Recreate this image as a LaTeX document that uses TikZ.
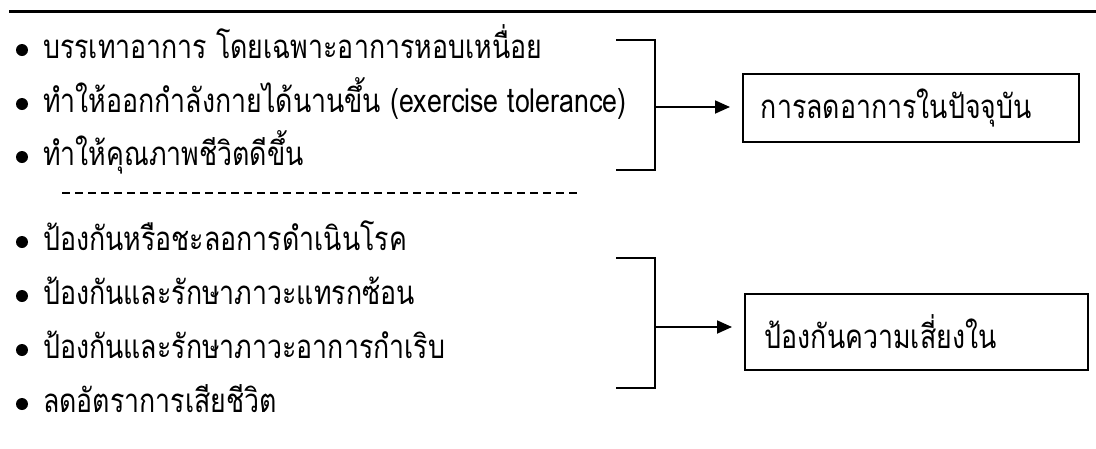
\documentclass[tikz,border=0pt]{standalone}
\usepackage{fontspec}
\setmainfont[Script=Thai,FakeStretch=0.81]{Loma}
\usetikzlibrary{arrows.meta}
\tikzset{
  item/.style={anchor=base west, inner sep=0pt, font=\fontsize{33}{38}\selectfont},
  dot/.style={circle, fill=black, inner sep=0pt, minimum size=12pt},
  brk/.style={line width=1.8pt},
  arr/.style={line width=1.8pt, -{Triangle[length=15pt,width=13pt]}},
  goalbox/.style={draw, line width=1.8pt, align=left, inner ysep=0pt, font=\fontsize{33}{38}\selectfont, anchor=north west}
}
\begin{document}
\begin{tikzpicture}[x=1pt,y=-1pt]
\useasboundingbox (0,0) rectangle (1096,448);
% top rule
\draw[line width=3pt] (9,11) -- (1096,11);
% bullets and items
\foreach \n/\yy/\t in {1/50/{บรรเทาอาการ โดยเฉพาะอาการหอบเหนื่อย},
  2/104/{ทำให้ออกกำลังกายได้นานขึ้น (exercise tolerance)},
  3/157/{ทำให้คุณภาพชีวิตดีขึ้น},
  4/242/{ป้องกันหรือชะลอการดำเนินโรค},
  5/296/{ป้องกันและรักษาภาวะแทรกซ้อน},
  6/350/{ป้องกันและรักษาภาวะอาการกำเริบ},
  7/404/{ลดอัตราการเสียชีวิต}}{
  \node[dot] (d\n) at (22,\yy) {};
  \node[item] (t\n) at (43,\yy+8) {\t};
}
% dashed separator
\coordinate (s1) at (62,193);
\coordinate (s2) at (580,193);
\draw[line width=1.8pt, dash pattern=on 8pt off 5pt] (s1) -- (s2);
% bracket 1
\coordinate (a1) at (616,40);
\coordinate (a2) at (655,40);
\coordinate (a3) at (655,170);
\coordinate (a4) at (616,170);
\coordinate (am) at (655,107);
\draw[brk] (a1) -- (a2) -- (a3) -- (a4);
\node[goalbox, minimum height=68pt, text width=300pt, inner xsep=18pt] (g1) at (742,73) {การลดอาการในปัจจุบัน};
\draw[arr] (am) -- ([xshift=-12pt]am -| g1.west);
% bracket 2
\coordinate (b1) at (616,258);
\coordinate (b2) at (655,258);
\coordinate (b3) at (655,388);
\coordinate (b4) at (616,388);
\coordinate (bm) at (655,327);
\draw[brk] (b1) -- (b2) -- (b3) -- (b4);
\node[goalbox, minimum height=76pt, text width=303pt, inner xsep=20pt] (g2) at (744,293) {ป้องกันความเสี่ยงใน};
\draw[arr] (bm) -- ([xshift=-12pt]bm -| g2.west);
\end{tikzpicture}
\end{document}
